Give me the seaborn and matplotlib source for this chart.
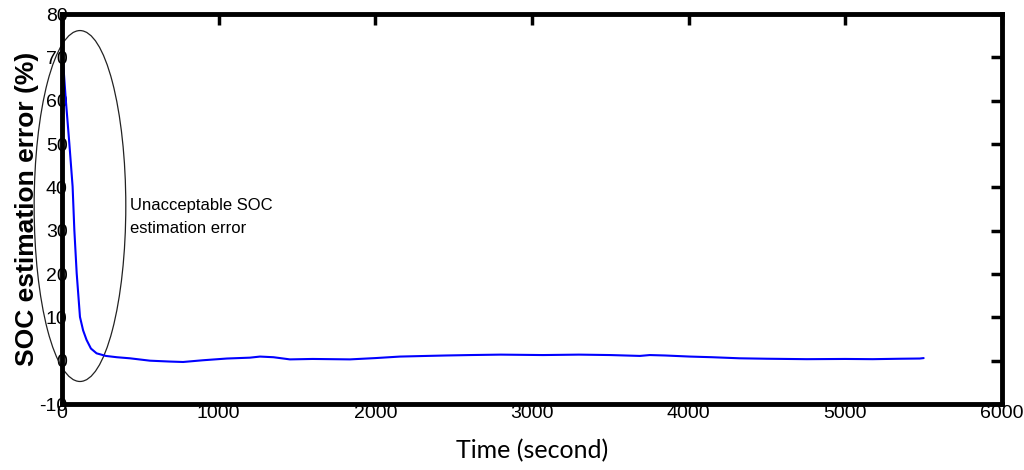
import matplotlib
matplotlib.use("Agg")
import matplotlib.pyplot as plt
from matplotlib.patches import Ellipse
import seaborn as sns
import pandas as pd

# values
time_s = [0, 8, 25, 47, 68, 79, 94, 115, 135, 157, 185, 221, 280, 350, 434, 562,
          689, 773, 900, 1053, 1200, 1264, 1350, 1455, 1600, 1838, 2000, 2157,
          2329, 2450, 2604, 2800, 3070, 3300, 3500, 3689, 3752, 3850, 4008, 4150,
          4327, 4500, 4754, 5000, 5175, 5350, 5475, 5500]
soc_error = [69.5, 68.6, 60, 50.2, 40.2, 30.2, 20.2, 10.1, 7, 4.8, 2.8, 1.7, 1.1,
             0.8, 0.55, 0.0, -0.2, -0.3, 0.1, 0.5, 0.7, 0.95, 0.8, 0.3, 0.4, 0.3,
             0.6, 0.95, 1.1, 1.2, 1.3, 1.4, 1.3, 1.4, 1.3, 1.1, 1.3, 1.2, 0.95, 0.8,
             0.55, 0.45, 0.35, 0.4, 0.35, 0.45, 0.5, 0.6]
x_ticks = [0, 1000, 2000, 3000, 4000, 5000, 6000]
y_ticks = [-10, 0, 10, 20, 30, 40, 50, 60, 70, 80]
note_text = "Unacceptable SOC\nestimation error"

df = pd.DataFrame({"t": time_s, "err": soc_error})

sns.set_style("white", rc={"text.color": "black", "xtick.color": "black",
                           "ytick.color": "black", "axes.labelcolor": "black"})
arial = ["Liberation Sans", "DejaVu Sans"]

fig = plt.figure(figsize=(10.24, 4.7), dpi=100)
ax = fig.add_axes([0.0605, 0.1404, 0.918, 0.8296])

sns.lineplot(data=df, x="t", y="err", ax=ax, color="#0000ff", linewidth=1.5,
             sort=False, estimator=None)

ax.set_xlim(0, 6000)
ax.set_ylim(-10, 80)
ax.set_xticks(x_ticks)
ax.set_yticks(y_ticks)
ax.set_xticklabels([str(v) for v in x_ticks], family=arial, fontsize=14)
ax.set_yticklabels([str(v) for v in y_ticks], family=arial, fontsize=14)
ax.tick_params(direction="in", length=8, width=2.5, top=True, right=True,
               color="black", pad=1)
ax.tick_params(axis="y", pad=-4)

for s in ax.spines.values():
    s.set_linewidth(3.5)
    s.set_color("black")

ax.set_xlabel("Time (second)", family=["Lato", "DejaVu Sans"], fontsize=18,
              labelpad=12)
ax.set_ylabel("SOC estimation error (%)", family=arial,
              fontsize=19, fontweight="bold", labelpad=0)

ell = Ellipse((115, 35.7), width=585, height=81, fill=False, edgecolor="#222222",
              linewidth=0.9, clip_on=False)
ax.add_patch(ell)

ax.text(434, 33.2, note_text, family=arial, fontsize=12, va="center", ha="left",
        linespacing=1.65)

fig.savefig("out.png", dpi=100, facecolor="white")
